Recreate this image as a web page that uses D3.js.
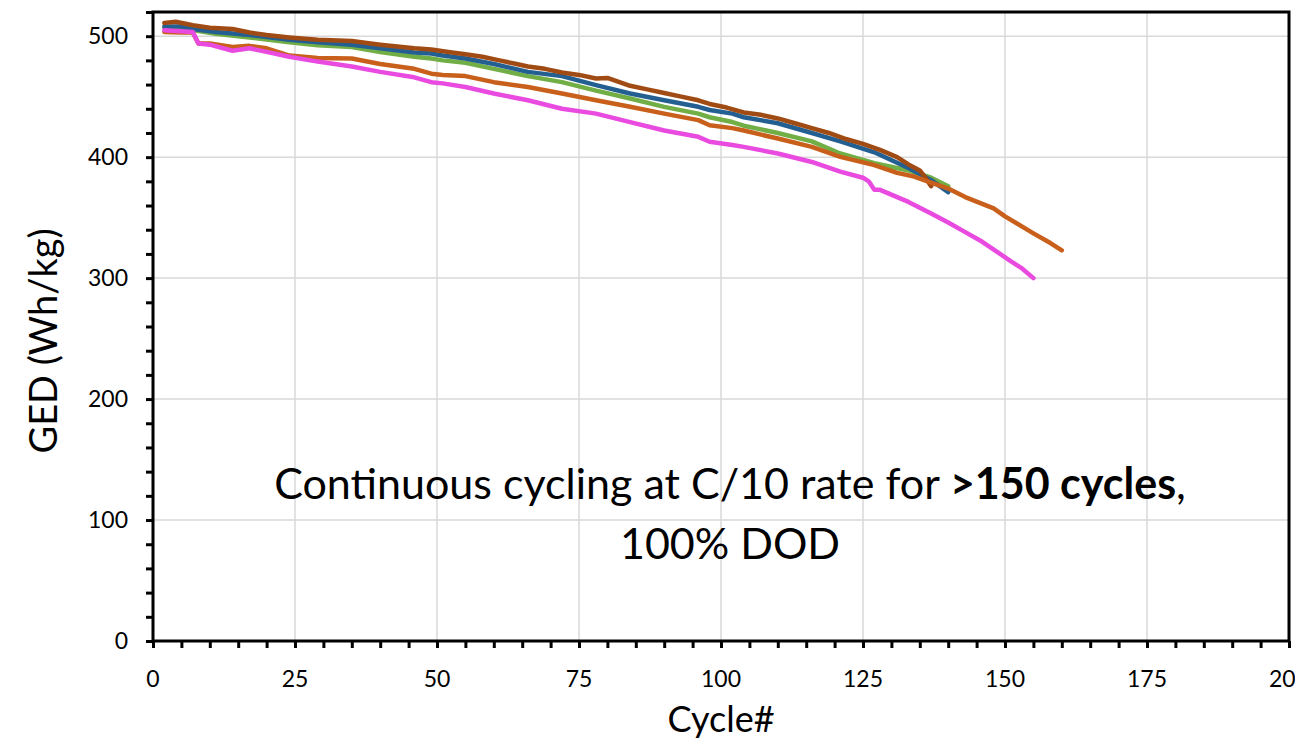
<!DOCTYPE html>
<html><head><meta charset="utf-8">
<script src="https://cdn.jsdelivr.net/npm/d3@7"></script>
<style>
html,body{margin:0;padding:0;background:#fff;}
svg{display:block;font-family:Lato,"Open Sans",sans-serif;}
</style></head>
<body><svg id="chart" width="1295" height="745"></svg>
<script>
// ---- data ----
const xTicks = [0,25,50,75,100,125,150,175,200];
const yTicks = [0,100,200,300,400,500];

const brownCycles = [2,4,7,10,14,17,20,24,29,35,40,46,49,52,55,58,61,64,66,69,72,75,78,80,84,87,90,93,96,98,101,104,107,110,113,116,119,122,125,128,131,133,135,136,137];
const brownValues = [511,512,509,507,506,503,501,499,497,496,493,490,489,487,485,483,480,477,475,473,470,468,465,465.5,459,456,453,450,447,444,441,437,435,432,428,424,420,415,411,406,400,394,389,383,376];

const blueCycles = [2,5,7,11,17,24,29,35,40,46,49,51,55,60,66,72,78,84,90,96,98,102,104,110,116,121,127,133,137,140];
const blueValues = [508,508,506,503.5,501,497,495,493,490,486.5,485.7,484,481.5,477,470.5,467,459.5,452.6,447,441.6,439,436,433,428,420,413,404,391,381,371];

const greenCycles = [2,7,11,17,24,29,35,40,46,49,51,55,60,66,72,78,84,90,96,98,102,104,110,116,121,127,133,137,140];
const greenValues = [507,505,502,499,495,492.6,491,487,483,481.5,480,478,473,467,462,455,448.5,441.6,436,433,429,426,420,413,403,395,389,383,376];

const orangeCycles = [2,5,7,8,10,14,17,20,24,29,35,40,46,49,51,55,60,66,72,78,84,90,96,98,102,104,110,116,121,127,131,134,137,140,143,148,150,155,158,160];
const orangeValues = [503.5,503,503,494,494,491,492,490,484,482,481.5,477,473,469,468,467,462,458,452.6,447,441.6,436,430.6,426.4,424,422,415.4,408.5,400.2,393.4,387,384,379,374,367,357.6,351,337,329,323];

const magentaCycles = [2,7,8,10,14,17,20,24,29,35,40,46,49,51,55,60,66,72,78,84,90,96,98,102,104,110,116,121,125,126,127,128,133,137,140,143,146,149,151,153,155];
const magentaValues = [505,503.5,494,493,488,490,487,483,479,475,470.5,466,462,461,458,452.6,447,440,436,429,422,416.8,412.7,410,408.5,403,396,388,383,380,373,373,363,353.5,346,338,330,320.4,314,308,300];

const seriesColors = ["#72AE46","#245F92","#A04B14","#C85F1A","#E94BE0"];

// ---- layout ----
const svg = d3.select("#chart");
const L = 153, R = 1289, T = 12, B = 641;
const x = d3.scaleLinear().domain([0,200]).range([L,R]);
const y = d3.scaleLinear().domain([0,520]).range([B,T]);

// gridlines
const grid = svg.append("g");
grid.selectAll(".vg").data(xTicks.slice(1,-1)).join("line")
  .attr("x1",d=>x(d)).attr("x2",d=>x(d)).attr("y1",T).attr("y2",B)
  .attr("stroke","#d9d9d9").attr("stroke-width",1.5);
grid.selectAll(".hg").data(yTicks.slice(1)).join("line")
  .attr("x1",L).attr("x2",R).attr("y1",d=>y(d)).attr("y2",d=>y(d))
  .attr("stroke","#d9d9d9").attr("stroke-width",1.5);

// annotation
const ann = svg.append("text").attr("x",730).attr("y",499).attr("text-anchor","middle")
  .attr("font-size",43).attr("fill","#000");
ann.append("tspan").text("Continuous cycling at C/10 rate for ");
ann.append("tspan").attr("font-weight","bold").text(">150 cycles");
ann.append("tspan").text(",");
svg.append("text").attr("x",730).attr("y",559).attr("text-anchor","middle")
  .attr("font-size",43).attr("fill","#000").text("100% DOD");

// series
const line = d3.line().x(d=>x(d[0])).y(d=>y(d[1]));
const series = [
  [greenCycles, greenValues],
  [blueCycles, blueValues],
  [brownCycles, brownValues],
  [orangeCycles, orangeValues],
  [magentaCycles, magentaValues]
];
series.forEach((s,i)=>{
  const pts = s[0].map((c,j)=>[c, s[1][j]]);
  svg.append("path").datum(pts).attr("d",line).attr("fill","none")
    .attr("stroke",seriesColors[i]).attr("stroke-width",4.5)
    .attr("stroke-linejoin","round").attr("stroke-linecap","round");
});

// axes
const xMinor = d3.range(0,201,5);
const yMinor = d3.range(0,521,20);
const xAxis = svg.append("g").attr("transform",`translate(0,${B})`)
  .call(d3.axisBottom(x).tickValues(xMinor).tickSize(7).tickFormat(""));
const yAxis = svg.append("g").attr("transform",`translate(${L},0)`)
  .call(d3.axisLeft(y).tickValues(yMinor).tickSize(7).tickFormat(""));
[xAxis,yAxis].forEach(g=>{
  g.select(".domain").remove();
  g.selectAll(".tick line").attr("stroke","#000").attr("stroke-width",3);
});
// frame
svg.append("rect").attr("x",L).attr("y",T).attr("width",R-L).attr("height",B-T)
  .attr("fill","none").attr("stroke","#000").attr("stroke-width",3);

// tick labels
svg.append("g").selectAll("text").data(xTicks).join("text")
  .attr("x",d=>x(d)).attr("y",687).attr("text-anchor","middle")
  .attr("font-size",23).attr("fill","#000").text(d=>d);
svg.append("g").selectAll("text").data(yTicks).join("text")
  .attr("x",128).attr("y",d=>y(d)).attr("dy","0.35em").attr("text-anchor","end")
  .attr("font-size",23).attr("fill","#000").text(d=>d);

// axis titles
svg.append("text").attr("x",x(100)).attr("y",732).attr("text-anchor","middle")
  .attr("font-size",36).attr("fill","#000").text("Cycle#");
svg.append("text").attr("transform",`translate(57,341) rotate(-90)`)
  .attr("text-anchor","middle").attr("font-size",38).attr("fill","#000").text("GED (Wh/kg)");
</script></body></html>
